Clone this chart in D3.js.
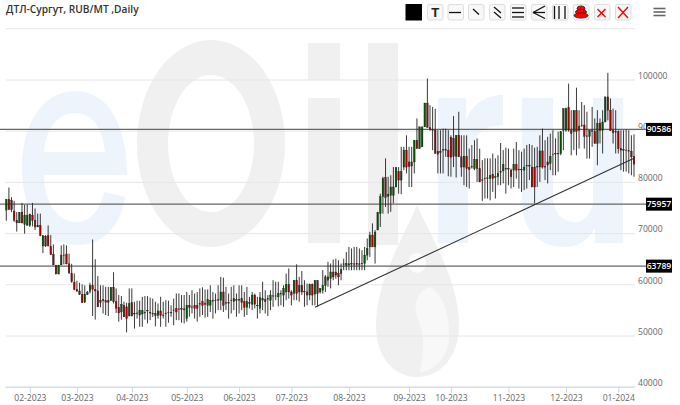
<!DOCTYPE html>
<html><head><meta charset="utf-8">
<script src="https://cdn.jsdelivr.net/npm/d3@7/dist/d3.min.js"></script>
<style>html,body{margin:0;padding:0;background:#fff;overflow:hidden}svg{display:block}</style>
</head><body><div id="chart"></div>
<script>
// values in thousand RUB/MT, one entry per trading day
const highs=[76.6,78.9,77.0,76.3,74.1,74.1,75.9,75.5,75.6,73.8,75.9,74.8,73.8,73.8,69.5,69.6,71.5,69.6,67.8,63.8,63.8,67.6,67.8,67.6,66,64,62.1,60.7,60.3,60,59.8,58.7,60.3,68.75,64.9,61.6,59.8,59.8,59.5,59.5,59.4,62.35,59.2,57.9,57.7,56.6,56.4,59.2,59.2,56.6,56.8,56.8,57.55,57.7,57.7,57.4,57.2,56.6,56.25,57.55,56.6,56.9,56.8,55.9,
57.2,58.2,58.2,57.9,57.9,58.5,57.9,58.85,58.2,58.5,59.2,59.4,59,59,59.8,58.5,58.2,59.8,61.45,61.3,59.5,58.2,59.5,59.8,58.2,59.8,59.8,58.5,59.5,57.55,58.5,58.2,57.55,58.5,60.5,58.85,57.9,58.85,60.8,60.5,60.5,58.85,59.8,62.1,63.1,58.85,60.8,63.9,61.45,62.6,60.8,60.15,60.15,60.15,60.8,60.8,59.2,62.76,61.8,64.4,64.06,64.85,65,64.7,64.06,
65,66.3,67.3,67,67.3,67.3,67,66.65,67.3,68.95,70.25,71.9,70.6,74.15,77.7,81,84.6,81,81.3,82.9,82.9,82.9,86.85,86.85,89.1,86.85,86.85,88.15,92.4,90.75,90.75,95.4,100.2,95,94.65,94.3,90.1,90.1,90.4,90.4,90.1,89.1,92.85,89.1,93.7,89.1,89.1,89.1,86.5,87.2,88.15,88.5,86.5,84.25,84.6,84.6,84.6,85.55,84.6,85.2,87.6,86.2,86.7,86.5,82.6,
86.5,87.8,86.2,85.9,86.5,87.2,87.4,87.2,86.7,86.85,89.1,90.4,88.15,88.8,89.45,90.1,88.5,89.8,89.8,94.3,94.5,99.2,94,94,98.4,94,95.6,95,93.7,89.8,94.65,92.4,94,92.4,94,96.6,101.3,96.3,94.3,94,90.1,90.1,90.1,90.2,90.1,89.1,89.3];
const lows=[72.4,74.5,74.1,72.2,70.3,72,71.9,69.9,71.5,71.2,71.3,70.6,71.2,69.4,66.1,67.3,67.4,65.7,63.7,62,62,63.7,63.9,63.9,62.1,60.3,58.85,58.5,57.9,56.4,56.4,57.9,58.2,53.8,53.1,55.6,55.5,54.3,54,53.8,56.8,56.25,54.4,52.7,53.1,53.65,50.6,53.8,53.8,51.35,53.3,51.7,51.7,53.1,52.35,53,53.6,51.8,53.3,51.7,53.3,51.7,52.5,53.65,
52,53,53,52.5,52.35,52.7,53.65,54.3,53.3,52.7,53.65,54,53.5,53.65,54.6,53.3,54.3,54.95,54.95,54.6,54.95,53.3,54.3,54.95,53.65,54.3,54.95,53.65,54,55.3,54.95,55.3,53.3,54.3,54.95,54.3,53.8,54.95,55.6,56.9,55.7,55.9,55.6,56.9,57.2,55.9,56.9,56.9,56.6,57.9,55.6,55.9,56.9,55.9,55.9,55.6,58.2,58.2,58.5,59.5,59.2,60.8,61.1,59.8,60.8,
62.75,62.75,62.75,62.75,62.75,62.75,62.75,62.75,62.75,64.7,65.35,67.3,64.05,70.6,71.2,73.8,75.1,73.8,74.15,75.8,79,77.7,77.6,82.3,81.65,79,79,81.65,86.5,86.5,86.85,90.75,90.6,90,86.2,85.55,81.65,81.65,81.65,84.9,81.1,81,82.9,80.85,84.9,81,79.35,79,78.7,82.6,82.3,80,80,76.3,76.75,76.75,76.4,78.05,76.75,79.35,79.35,79.7,77.7,79.35,78.7,
79,80.65,78.7,78.05,78.4,78.7,80.35,79,75.8,79,80,82.6,80.35,79.7,82.3,81.3,81.3,82,85.2,86.2,89.8,89.8,85.2,86.2,85.2,86.5,90.75,86.5,84.55,84.55,86.85,87.5,83.25,87.5,85.55,91.7,92,90,87.5,85.55,85.55,82.3,82,82,81.65,81.3,81];
const opens=[74.5,76.6,76.4,74.3,72.5,72,74.1,71.7,71.5,71.5,73.5,72.5,71.5,71.5,67.5,69.4,69.5,67.4,65.9,63.7,62,63.8,65.7,65.9,64,62.1,60.35,59,58.7,58.05,56.5,58,58.6,59.8,59,58.7,56.8,57,56.8,56.8,56.8,59.4,56.6,55.5,54.6,55.9,55.6,53.8,56.4,54.3,54.4,54,54.2,54.4,54.9,54.5,54.3,54.3,53.9,54.8,54,54.3,54.5,54.4,
55,55.3,55.2,55.3,55.2,53.3,55.9,55.6,55.9,55.9,56.25,56.6,56.25,55.9,55.9,56.8,56.9,57,56.9,58.5,56.4,56.4,56.9,56.6,57,57,57.2,56.6,55.5,56.4,56.1,57.9,55.9,55.3,57.2,57,57.2,56.9,57.75,57.75,57.55,58.2,57.9,58.5,60,58.5,58.2,60.8,58.5,59.8,58.6,58.5,57.9,60,58.1,60.7,58.5,58.85,59.8,61.45,61.1,62.4,62.4,62.1,62.1,
63.9,63.7,63.8,64.05,64,64.05,64,64.1,64.05,65.7,67.3,69.6,67.3,70.6,73.8,77.1,80.85,77.6,77.4,77.4,79,82,80.35,82.9,86.2,83.9,83.1,83.9,88.15,86.5,86.85,90.75,95.4,90.6,90.2,90.1,85.9,85.7,86.3,86.3,86.2,88.7,88.5,85,89.1,84.9,82.9,85,82.8,83,82.6,84.4,82.6,80.4,80.65,80.8,80.65,81.5,81,81,82,82.15,82.6,82.6,82.3,
82.3,83.45,82.45,82.45,82.3,83.2,83.2,82.9,82.9,83,82.9,86.05,83,83.9,83.6,85.4,85.55,85.55,85.55,90.1,90.1,94.5,90,89.8,93.9,90.1,91.1,91.1,89,88.9,90,89.8,87.5,91.5,90.1,91.7,96.6,94,90,89.8,89.8,86.5,86.3,86.2,86.1,86,85];
const closes=[76.6,74.6,74.6,72.5,72,74,72,73.5,73.5,73.7,72.5,71.2,71.2,69.5,69.5,67.5,67.5,65.8,63.8,62,63.7,65.7,65.6,64,62.2,60.5,59,58.7,58.05,56.4,58.05,58.4,59.8,59,58.7,55.6,56.5,56.8,56.5,56.5,59.4,56.6,55.3,54.4,56.1,53.65,53.3,56.2,53.8,54.2,54.3,54.9,54.9,54.5,54.8,54.4,54.2,53.9,54.8,53.9,53.9,54.2,54.5,54.5,
54.9,54.6,55.1,55.1,55,55.9,55.5,55.5,55.3,55.3,56.1,55.9,56.1,57,56.9,56.7,56.8,56.9,58.5,55.9,56.3,56.3,56.8,57.2,56.9,56.9,56.4,55.5,56.6,56.3,57.9,56.1,55.8,57.4,56.9,56.6,57.1,57.9,57.7,57.7,58.2,58.1,59.2,60,58.5,57.9,60.8,58.2,59.8,58.5,58.5,57.9,60,57.9,60.7,58.2,59.2,59.8,61.45,60.8,62.4,61.45,61.8,61.45,62.9,
64,64.1,64,63.95,63.9,63.9,63.9,64,65.7,67,69.6,67.3,70.2,74,77.1,80.65,76.95,77.2,79,79,82.8,80.35,82,86.2,82.9,83,83.9,88.15,86.5,90.75,90.75,95.4,90.6,90.2,90.1,85.55,85.4,86,86.2,86.2,84.9,84.8,85,89.1,84.9,82.9,85,82.6,82.4,82.9,84.4,82.6,80,80.3,80.6,80.7,81.3,80.65,80.9,81.65,81.9,83.45,82.5,82.5,81,
83.45,82.3,82.35,82.35,82.9,83.1,83.1,79,79,82.9,86.05,82.9,82.9,83.3,85,85.3,85.45,85.45,89.8,94.3,94.3,90.1,89.45,93.9,89.8,90.9,91,88.9,88.9,90.1,89.9,87.5,91.4,90,91.7,96.6,94,90,89.6,89.7,86.5,86.2,86.2,86.1,86,84.9,83.45];
const xTickIndex=[9,27,48,69,89,109,131,154,170,192,214,234];
const xTickLabels=["02-2023","03-2023","04-2023","05-2023","06-2023","07-2023","08-2023","09-2023","10-2023","11-2023","12-2023","01-2024"];
const yTicks=[40,50,60,70,80,90,100,110];
const yLabels=["40000","50000","60000","70000","80000","90000","100000",""];
const levelValues=[90.25,75.65,63.55];
const levelLabels=["90586","75957","63789"];
const trendIndex=[118,240];
const trendValues=[55.5,84.6];
const title="ДТЛ-Сургут, RUB/MT ,Daily";

const W=680,H=405,L=5.7,R=635,T=28.3,B=386.7;
const svg=d3.select("#chart").append("svg").attr("width",W).attr("height",H).attr("font-family","'Open Sans',sans-serif");
const x=d3.scaleLinear().domain([0,highs.length-1]).range([6.3,634]);
const y=d3.scaleLinear().domain([40,110]).range([B,T]);

// watermark
const wm=svg.append("g");
const blue="#edf4fb",gray="#f0f0f0";
wm.append("path").attr("fill-rule","evenodd").attr("fill",blue).attr("d","M127,175C127,120 105,91 75,91C42,91 22,125 22,168C22,215 45,245 78,245C100,245 120,230 125,197L104,192C100,210 90,222 77,222C58,222 44,204 44,175ZM44,152C46,128 58,113 75,113C92,113 103,128 105,152Z");
wm.append("path").attr("fill-rule","evenodd").attr("fill",gray).attr("d","M137,143.5A74,103.5 0 1,1 285,143.5A74,103.5 0 1,1 137,143.5ZM168,143.5A43,68.5 0 1,0 254,143.5A43,68.5 0 1,0 168,143.5Z");
wm.append("path").attr("fill",gray).attr("d","M308,43H340V80H308ZM308,98H340V243H308ZM368,43H398V245H368Z");
wm.append("path").attr("fill",blue).attr("d","M438,98L466,98L466,120C472,105 485,95 503,95L503,125C480,125 468,140 468,170L468,243L438,243Z");
wm.append("path").attr("fill",blue).attr("d","M522,98L553,98L553,195C553,213 562,222 575,222C585,222 593,212 593,200L593,98L623,98L623,243L595,243L595,228C588,240 578,247 565,247C540,247 522,232 522,200Z");
wm.append("path").attr("fill",gray).attr("d","M417,205C405,235 376,280 376,325C376,355 392,377 417,377C442,377 459,355 459,325C459,280 430,235 417,205Z");
wm.append("ellipse").attr("cx",417).attr("cy",263).attr("rx",9).attr("ry",10).attr("fill","#fcfcfc");
wm.append("path").attr("fill","#f8f8f8").attr("d","M430,287C445,295 450,320 449,340C447,360 430,372 420,372C424,350 425,335 418,320C412,305 418,290 430,287Z");

// grid and axes
const grid=svg.append("g").attr("transform",`translate(${R},0)`).call(d3.axisLeft(y).tickValues(yTicks).tickSize(R-L).tickFormat(""));
grid.select(".domain").remove();
grid.selectAll("line").attr("x1",0).attr("x2",-(R-L)).attr("stroke","#e6e6e6");
const yAxis=svg.append("g").attr("transform",`translate(${R},-4)`).call(d3.axisRight(y).tickValues(yTicks).tickSize(0).tickPadding(3).tickFormat((d,i)=>yLabels[i]));
yAxis.select(".domain").remove();
yAxis.selectAll("text").attr("fill","#666").attr("font-size",8.6).attr("font-family","'Open Sans',sans-serif");
const xAxis=svg.append("g").attr("transform",`translate(0,${B})`).call(d3.axisBottom(x).tickValues(xTickIndex).tickSize(6).tickPadding(2).tickFormat((d,i)=>xTickLabels[i]));
xAxis.select(".domain").attr("d",`M${L},0.5H${R}`).attr("stroke","#ccd6eb");
xAxis.selectAll("line").attr("stroke","#ccd6eb");
xAxis.selectAll("text").attr("fill","#666").attr("font-size",8.6).attr("font-family","'Open Sans',sans-serif");

// level lines
svg.selectAll(".lvl").data(levelValues).join("line").attr("x1",0).attr("x2",646).attr("y1",d=>y(d)).attr("y2",d=>y(d)).attr("stroke","#666").attr("stroke-width",1.3);
const lab=svg.selectAll(".lab").data(levelValues).join("g").attr("transform",d=>`translate(646,${y(d)})`);
lab.append("rect").attr("x",0).attr("y",-6.5).attr("width",26).attr("height",13).attr("fill","#000");
lab.append("text").data(levelLabels).attr("x",13).attr("y",3).attr("text-anchor","middle").attr("fill","#fff").attr("font-size",8.6).attr("font-weight",600).text(d=>d);

// candles
const idx=d3.range(highs.length);
svg.append("g").selectAll("line").data(idx).join("line").attr("x1",i=>x(i)).attr("x2",i=>x(i)).attr("y1",i=>y(highs[i])).attr("y2",i=>y(lows[i])).attr("stroke","#222").attr("stroke-width",0.9);
svg.append("g").selectAll("rect").data(idx).join("rect")
 .attr("x",i=>x(i)-0.8).attr("width",1.6)
 .attr("y",i=>y(Math.max(opens[i],closes[i])))
 .attr("height",i=>Math.max(0.3,Math.abs(y(opens[i])-y(closes[i]))))
 .attr("fill",i=>closes[i]>=opens[i]?"#005a00":"#a80000")
 .attr("stroke","#222").attr("stroke-width",0.4);

// trend line
svg.append("line").attr("x1",x(trendIndex[0])).attr("x2",x(trendIndex[1])).attr("y1",y(trendValues[0])).attr("y2",y(trendValues[1])).attr("stroke","#333").attr("stroke-width",1.1);

// title
svg.append("text").attr("x",6).attr("y",12.5).attr("fill","#333").attr("font-size",10.2).attr("font-weight",600).text(title);

// toolbar
const tb=svg.append("g");
tb.append("rect").attr("x",405.5).attr("y",4).attr("width",16.5).attr("height",16.5).attr("fill","#000");
const btnX=[427,447.5,468,489,510,531,552,573,594,615];
tb.selectAll(".b").data(btnX).join("rect").attr("x",d=>d+.5).attr("y",4.5).attr("width",15.5).attr("height",15.5).attr("rx",2).attr("fill","#f8f8f8").attr("stroke","#ddd");
tb.append("text").attr("x",435.2).attr("y",17).attr("text-anchor","middle").attr("font-size",13).attr("font-weight",700).attr("font-family","'Liberation Sans',sans-serif").attr("fill","#222").text("T");
const seg=(a,b,c,d,col,w)=>tb.append("path").attr("d",`M${a},${b}L${c},${d}`).attr("stroke",col||"#111").attr("stroke-width",w||1.3).attr("fill","none");
seg(449,12.5,461,12.5);
seg(473,9,479,14.5);
seg(494,7,501,13);seg(494,12,501,18);
seg(512,8,524,8);seg(512,12.5,524,12.5);seg(512,17,524,17);
seg(533,12.5,545,6);seg(533,12.5,545,12.5);seg(533,12.5,545,18.5);
seg(554.5,6,554.5,19);seg(559,6,559,19);seg(565,6,565,19);
[[8,4],[11.5,5.5],[15,7]].forEach(r=>tb.append("ellipse").attr("cx",581).attr("cy",r[0]+.5).attr("rx",r[1]).attr("ry",2.6).attr("fill","#f00").attr("stroke","#222").attr("stroke-width",.8));
seg(597.5,9,605.5,17,"#f00",1.4);seg(605.5,9,597.5,17,"#f00",1.4);
seg(618,7,628,18,"#f00",1.4);seg(628,7,618,18,"#f00",1.4);
[8.5,12,15.5].forEach(v=>seg(653.5,v,665.5,v,"#666",1.6));
</script></body></html>
